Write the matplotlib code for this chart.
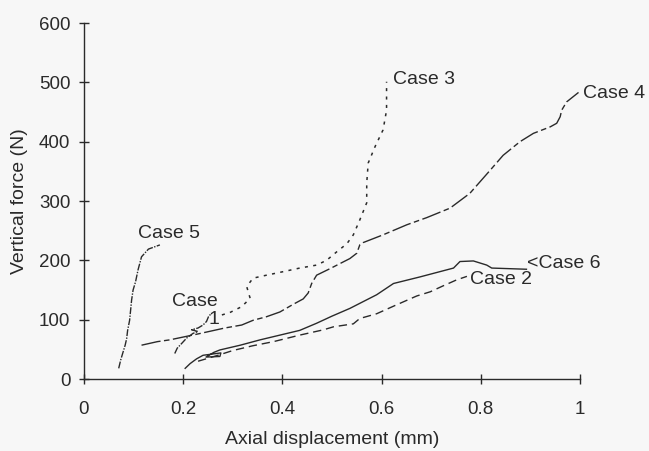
import matplotlib.pyplot as plt

plt.rcParams['font.family'] = ['Liberation Sans', 'DejaVu Sans']

# Werte (Verschiebung in mm, Kraft in N)
x1 = [0.183, 0.188, 0.197, 0.207, 0.220, 0.230, 0.217, 0.230, 0.240, 0.247, 0.251, 0.257]
y1 = [43, 52, 60, 69, 77, 80, 83, 86, 91, 97, 105, 111]

x2 = [0.230, 0.270, 0.300, 0.340, 0.382, 0.435, 0.483, 0.503, 0.543, 0.556, 0.590,
      0.630, 0.671, 0.698, 0.724, 0.751, 0.772]
y2 = [30, 40, 48, 56, 63, 74, 83, 88, 93, 102, 110, 125, 140, 147, 157, 167, 173]

x3 = [0.278, 0.294, 0.318, 0.335, 0.328, 0.341, 0.368, 0.402, 0.435, 0.469, 0.489,
      0.509, 0.530, 0.543, 0.556, 0.570, 0.570, 0.573, 0.587, 0.603, 0.610, 0.610]
y3 = [108, 112, 122, 136, 156, 170, 175, 181, 187, 192, 200, 214, 228, 243, 268, 297,
      330, 364, 392, 420, 453, 501]

x4 = [0.116, 0.148, 0.173, 0.230, 0.284, 0.318, 0.341, 0.368, 0.395, 0.422, 0.442,
      0.452, 0.459, 0.469, 0.496, 0.536, 0.550, 0.556, 0.563, 0.603, 0.651, 0.691,
      0.738, 0.778, 0.819, 0.845, 0.879, 0.906, 0.940, 0.953, 0.960, 0.963, 0.973, 0.997]
y4 = [57, 63, 66, 76, 86, 91, 99, 105, 113, 126, 135, 145, 161, 175, 186, 203, 212,
      226, 230, 243, 260, 272, 288, 313, 352, 377, 400, 414, 425, 431, 442, 453, 467, 483]

x5 = [0.070, 0.074, 0.079, 0.083, 0.086, 0.088, 0.092, 0.094, 0.096, 0.099, 0.104,
      0.109, 0.116, 0.130, 0.153]
y5 = [18, 32, 46, 57, 68, 82, 99, 116, 133, 150, 164, 184, 206, 219, 226]

x6 = [0.204, 0.214, 0.227, 0.240, 0.276, 0.274, 0.246, 0.262, 0.274, 0.315, 0.355,
      0.395, 0.435, 0.469, 0.500, 0.536, 0.590, 0.624, 0.677, 0.745, 0.758, 0.785,
      0.812, 0.822, 0.892]
y6 = [18, 26, 34, 40, 44, 38, 37, 45, 49, 57, 66, 74, 82, 94, 106, 119, 142, 161,
      172, 187, 198, 199, 192, 187, 185]

ink = '#2a2a2a'
paper = '#f7f7f7'
fig = plt.figure(figsize=(6.49, 4.51), dpi=100, facecolor=paper)
ax = fig.add_axes([0.1294, 0.1596, 0.7643, 0.7894])
ax.set_facecolor(paper)

ax.plot(x1, y1, color=ink, lw=1.0, dashes=(5, 1, 1, 1))
ax.plot(x2, y2, color=ink, lw=1.0, dashes=(6, 3.5))
ax.plot(x3, y3, color=ink, lw=1.1, dashes=(2, 3.5))
ax.plot(x4, y4, color=ink, lw=1.0, dashes=(14, 2.5, 4, 2.5))
ax.plot(x5, y5, color=ink, lw=1.0, dashes=(5, 1, 1, 1))
ax.plot(x6, y6, color=ink, lw=1.0)

# Beschriftungen der Kurven
fs = 14
ax.text(0.109, 246, 'Case 5', fontsize=fs, color=ink, va='center')
ax.text(0.177, 130, 'Case', fontsize=fs, color=ink, va='center')
ax.text(0.262, 100, '1', fontsize=fs, color=ink, va='center', ha='center')
ax.text(0.623, 505, 'Case 3', fontsize=fs, color=ink, va='center')
ax.text(1.006, 482, 'Case 4', fontsize=fs, color=ink, va='center')
ax.text(0.893, 195, '<Case 6', fontsize=fs, color=ink, va='center')
ax.text(0.779, 167, 'Case 2', fontsize=fs, color=ink, va='center')

ax.set_xlim(0, 1)
ax.set_ylim(0, 600)
ax.set_xticks([0, 0.2, 0.4, 0.6, 0.8, 1])
ax.set_xticklabels(['0', '0.2', '0.4', '0.6', '0.8', '1'])
ax.set_yticks(range(0, 601, 100))

for s in ['top', 'right']:
    ax.spines[s].set_visible(False)
for s in ['left', 'bottom']:
    ax.spines[s].set_linewidth(1.0)
    ax.spines[s].set_color(ink)

ax.tick_params(axis='y', direction='inout', length=7.5, width=1.0, pad=6,
               labelsize=13.5, colors=ink)
ax.tick_params(axis='x', direction='inout', length=7.5, width=1.0, pad=12,
               labelsize=13.5, colors=ink)

ax.set_xlabel('Axial displacement (mm)', fontsize=14, color=ink)
ax.set_ylabel('Vertical force (N)', fontsize=14, color=ink)
ax.xaxis.label.set_va('center')
ax.xaxis.set_label_coords(0.5, -0.171)
ax.yaxis.label.set_va('center')
ax.yaxis.set_label_coords(-0.129, 0.5)

plt.savefig('out.png', dpi=100, facecolor=fig.get_facecolor())
